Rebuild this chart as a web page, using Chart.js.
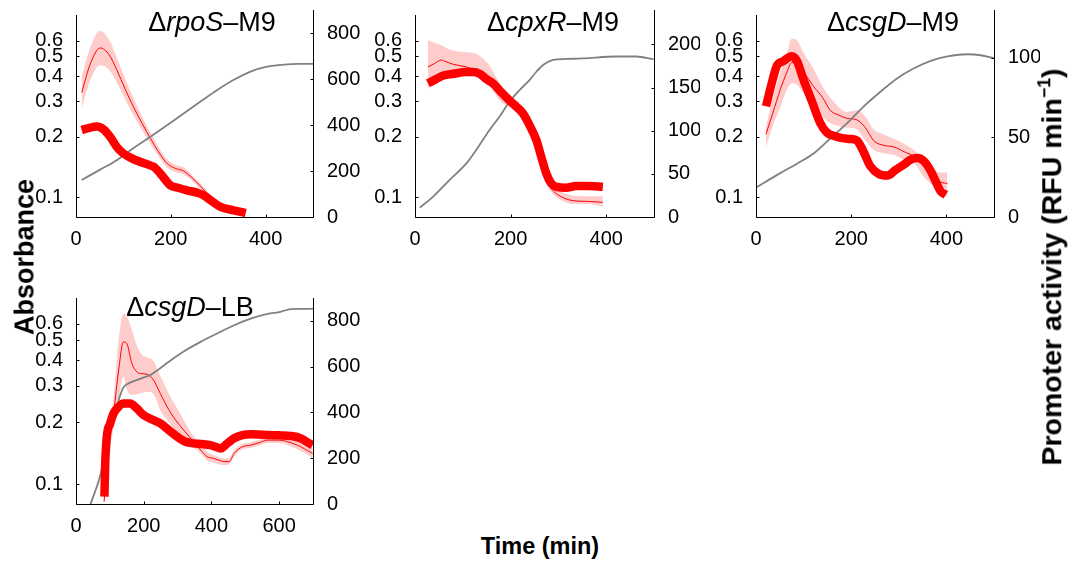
<!DOCTYPE html>
<html>
<head>
<meta charset="utf-8">
<script src="https://cdn.jsdelivr.net/npm/chart.js@4.4.0/dist/chart.umd.min.js"></script>
<style>
  body { margin: 0; background: #fff; width: 1073px; height: 562px; position: relative; overflow: hidden;
         font-family: "Liberation Sans", Arial, sans-serif; color: #000; }
  canvas { position: absolute; }
  .ttl { position: absolute; font-size: 27px; line-height: 1; white-space: nowrap; transform: translateX(-50%); }
  .lab { position: absolute; font-weight: bold; white-space: nowrap; line-height: 1; }
  .rot { transform: translate(-50%, -50%) rotate(-90deg); }
  sup { font-size: 0.62em; vertical-align: 0.62em; }
</style>
</head>
<body>
<canvas id="c1" width="360" height="260" style="left:0;top:0"></canvas>
<canvas id="c2" width="350" height="260" style="left:350px;top:0"></canvas>
<canvas id="c3" width="360" height="260" style="left:680px;top:0"></canvas>
<canvas id="c4" width="360" height="282" style="left:0;top:280px"></canvas>

<div class="ttl" style="left:212px;top:9px">&Delta;<i>rpoS</i>&ndash;M9</div>
<div class="ttl" style="left:553px;top:9px">&Delta;<i>cpxR</i>&ndash;M9</div>
<div class="ttl" style="left:893px;top:9px">&Delta;<i>csgD</i>&ndash;M9</div>
<div class="ttl" style="left:190px;top:294px">&Delta;<i>csgD</i>&ndash;LB</div>

<div class="lab rot" style="left:25px;top:257px;font-size:27px">Absorbance</div>
<div class="lab rot" style="left:1051px;top:267px;font-size:28.5px">Promoter activity (RFU min<sup>&minus;1</sup>)</div>
<div class="lab" style="left:540px;top:535px;font-size:23.5px;transform:translateX(-50%)">Time (min)</div>

<script>
// absorbance ticks shared by every panel (log axis)
const LOG_TICKS = [0.1, 0.2, 0.3, 0.4, 0.5, 0.6];

// ---- rpoS, M9 ----
const rpoS_odT = [12, 50, 86, 120, 157, 192, 227, 262, 298, 333, 368, 403, 439, 470, 500];
const rpoS_od = [0.122, 0.137, 0.153, 0.175, 0.2, 0.228, 0.261, 0.298, 0.341, 0.383, 0.421, 0.445, 0.456, 0.459, 0.459];
const rpoS_thickT = [12, 30, 44, 58, 72, 86, 100, 118, 135, 150, 164, 178, 199, 213, 234, 255, 269, 284, 305, 333, 358];
const rpoS_thick = [378, 389, 393, 381, 349, 305, 276, 255, 240, 229, 218, 189, 138, 128, 116, 106, 95, 73, 44, 29, 17];
const rpoS_thinT = [12, 30, 51, 70, 86, 104, 121, 140, 157, 174, 192, 210, 227, 245, 262, 280, 300];
const rpoS_thin = [541, 665, 735, 705, 640, 555, 480, 405, 342, 284, 233, 211, 200, 170, 135, 95, 45];
const rpoS_hi = [611, 737, 810, 770, 695, 600, 518, 435, 367, 304, 251, 227, 215, 183, 147, 105, 55];
const rpoS_lo = [471, 593, 660, 640, 585, 510, 442, 375, 317, 264, 215, 195, 185, 157, 123, 85, 35];

// ---- cpxR, M9 ----
const cpxR_odT = [10, 38, 72, 107, 128, 156, 177, 198, 219, 240, 254, 268, 289, 316, 351, 421, 463, 499];
const cpxR_od = [0.089, 0.101, 0.122, 0.147, 0.172, 0.216, 0.252, 0.299, 0.341, 0.383, 0.42, 0.454, 0.481, 0.486, 0.489, 0.5, 0.5, 0.485];
const cpxR_thickT = [27, 41, 59, 80, 107, 121, 135, 149, 163, 180, 198, 212, 226, 240, 254, 264, 275, 285, 296, 316, 337, 365, 393];
const cpxR_thick = [155, 159, 164, 166, 168, 168, 166, 160, 155, 145, 135, 128, 120, 106, 89, 70, 50, 39, 35, 34, 36, 36, 35];
const cpxR_thinT = [27, 41, 55, 65, 80, 107, 125, 142, 160, 177, 195, 212, 229, 247, 261, 275, 285, 296, 316, 330, 365, 393];
const cpxR_thin = [174, 178, 182, 180, 177, 174, 170, 162, 155, 145, 135, 128, 114, 97, 73, 46, 33, 27, 21, 19, 18, 17];
const cpxR_hi = [205, 202, 199, 196, 193, 191, 190, 184, 172, 155, 140, 131, 118, 104, 86, 57, 42, 34, 27, 25, 24, 24];
const cpxR_lo = [149, 155, 160, 163, 167, 169, 166, 159, 149, 135, 128, 122, 108, 93, 66, 41, 29, 23, 17, 15, 15, 12];

// ---- csgD, M9 ----
const csgM9_odT = [0, 51, 86, 121, 156, 191, 226, 262, 297, 332, 367, 402, 444, 472, 500];
const csgM9_od = [0.112, 0.132, 0.147, 0.165, 0.196, 0.233, 0.282, 0.335, 0.39, 0.437, 0.476, 0.5, 0.513, 0.507, 0.49];
const csgM9_thickT = [21, 33, 44, 58, 75, 86, 100, 117, 135, 149, 163, 181, 198, 212, 226, 240, 258, 276, 293, 311, 325, 339, 353, 367, 378, 388, 399];
const csgM9_thick = [69.5, 84, 95, 98, 101, 98, 86, 73, 59, 53, 51, 49.5, 49, 48, 41, 32, 27, 26, 29.5, 33, 36, 37, 35, 29, 22, 16, 14];
const csgM9_thinT = [21, 35, 51, 65, 75, 86, 100, 121, 140, 156, 174, 191, 212, 230, 247, 268, 290, 311, 332, 353, 374, 388, 402];
const csgM9_thin = [52, 65, 80, 91, 97, 96, 91, 82, 75, 67, 64, 62, 61, 56, 48, 45, 44, 41, 38, 32, 25, 22, 21];
const csgM9_hi = [57, 74, 91, 103, 112, 111, 103, 93, 82, 75, 69, 66, 67, 63, 55, 52, 49, 46, 42, 36, 29, 28, 28];
const csgM9_lo = [44, 57, 69, 80, 84, 83, 78, 72, 63, 59, 57, 56, 55, 48, 42, 40, 39, 36, 34, 25, 19, 14, 13];

// ---- csgD, LB ----
const csgLB_odT = [43, 71, 86, 101, 116, 130, 140, 155, 170, 195, 219, 244, 269, 318, 368, 417, 467, 516, 566, 600, 635, 664, 704];
const csgLB_od = [0.08, 0.109, 0.141, 0.182, 0.219, 0.268, 0.294, 0.308, 0.316, 0.327, 0.338, 0.36, 0.387, 0.44, 0.49, 0.538, 0.59, 0.635, 0.67, 0.683, 0.707, 0.708, 0.71];
const csgLB_thickT = [84, 86, 91, 101, 111, 126, 140, 160, 180, 200, 225, 249, 274, 299, 323, 348, 373, 397, 412, 427, 447, 467, 491, 516, 541, 566, 600, 635, 664, 684, 699];
const csgLB_thick = [32, 163, 294, 352, 396, 425, 439, 439, 417, 388, 369, 352, 323, 294, 272, 265, 262, 257, 250, 243, 265, 287, 301, 305, 304, 301, 300, 297, 287, 269, 257];
const csgLB_thinT = [83, 91, 101, 111, 126, 140, 150, 165, 180, 190, 210, 229, 249, 269, 294, 318, 343, 368, 387, 407, 427, 437, 452, 467, 491, 516, 541, 566, 600, 625, 645, 664, 684, 699];
const csgLB_thin = [10, 163, 294, 396, 585, 708, 701, 614, 577, 570, 567, 541, 483, 425, 367, 323, 279, 236, 207, 199, 189, 185, 185, 221, 250, 257, 268, 279, 279, 272, 262, 250, 233, 221];
const csgLB_hi = [20, 200, 340, 460, 720, 832, 820, 760, 690, 660, 640, 625, 560, 497, 430, 367, 305, 265, 228, 214, 202, 200, 200, 235, 262, 270, 281, 292, 292, 288, 280, 268, 252, 245];
const csgLB_lo = [0, 120, 250, 330, 450, 556, 500, 476, 480, 483, 490, 480, 410, 367, 320, 279, 250, 221, 190, 180, 172, 170, 172, 207, 238, 245, 256, 266, 266, 258, 245, 232, 215, 200];

const FONT = "'Liberation Sans', Arial, sans-serif";
Chart.defaults.font.family = FONT;
Chart.defaults.font.size = 20;
Chart.defaults.color = '#000';

const series = (t, v) => t.map((x, i) => ({ x, y: v[i] }));

// plain black axis lines with short inward ticks
const axisLines = {
  id: 'axisLines',
  afterDraw(chart, args, o) {
    const { ctx, chartArea: a, scales } = chart;
    const yL = scales.y, yR = scales.y1, xs = scales.x;
    const l = Math.round(a.left) + 0.5, r = Math.round(a.right) + 0.5, b = Math.round(a.bottom) + 0.5;
    ctx.save();
    ctx.strokeStyle = '#000';
    ctx.lineWidth = 1;
    ctx.beginPath();
    ctx.moveTo(l, Math.round(yL.getPixelForValue(o.leftTop)));
    ctx.lineTo(l, b);
    ctx.lineTo(r, b);
    ctx.moveTo(r, Math.round(a.top));
    ctx.lineTo(r, b);
    yL.ticks.forEach(t => { const p = Math.round(yL.getPixelForValue(t.value)) + 0.5; ctx.moveTo(l, p); ctx.lineTo(l + 3, p); });
    yR.ticks.forEach(t => { const p = Math.round(yR.getPixelForValue(t.value)) + 0.5; ctx.moveTo(r, p); ctx.lineTo(r - 3, p); });
    xs.ticks.forEach(t => { const p = Math.round(xs.getPixelForValue(t.value)) + 0.5; ctx.moveTo(p, b); ctx.lineTo(p, b - 3); });
    ctx.stroke();
    ctx.restore();
  }
};

function panel(id, p) {
  new Chart(document.getElementById(id), {
    type: 'line',
    data: {
      datasets: [
        { data: series(p.thickT, p.thick), yAxisID: 'y1', borderColor: '#ff0000', borderWidth: 8.5, order: 0 },
        { data: series(p.odT, p.od), yAxisID: 'y', borderColor: '#808080', borderWidth: 1.8, order: 1 },
        { data: series(p.thinT, p.thin), yAxisID: 'y1', borderColor: '#ff0000', borderWidth: 1, order: 2 },
        { data: series(p.thinT, p.hi), yAxisID: 'y1', borderColor: 'rgba(0,0,0,0)', backgroundColor: '#ffcccc', fill: '+1', order: 3 },
        { data: series(p.thinT, p.lo), yAxisID: 'y1', borderColor: 'rgba(0,0,0,0)', fill: false, order: 4 }
      ]
    },
    options: {
      responsive: false,
      animation: false,
      events: [],
      layout: { padding: { top: p.top, left: 0, right: 0, bottom: 0 } },
      elements: {
        point: { radius: 0 },
        line: { cubicInterpolationMode: 'monotone', borderCapStyle: 'butt', borderJoinStyle: 'round' }
      },
      plugins: { legend: { display: false }, tooltip: { enabled: false }, axisLines: { leftTop: p.leftTop } },
      scales: {
        x: {
          type: 'linear', min: 0, max: p.xMax,
          grid: { display: false }, border: { display: false },
          ticks: { stepSize: 200, includeBounds: false, padding: 2, maxRotation: 0 },
          afterFit: s => { s.height = p.xH; s.paddingLeft = 0; s.paddingRight = 0; }
        },
        y: {
          type: 'logarithmic', position: 'left', min: 0.08, max: p.leftMax,
          grid: { display: false }, border: { display: false },
          afterBuildTicks: s => { s.ticks = LOG_TICKS.map(v => ({ value: v })); },
          ticks: { padding: 5, callback: v => String(v) },
          afterFit: s => { s.width = p.yW; s.paddingTop = 0; s.paddingBottom = 0; }
        },
        y1: {
          type: 'linear', position: 'right', min: 0, max: p.y1Max,
          grid: { display: false }, border: { display: false },
          ticks: { stepSize: p.y1Step, includeBounds: false, padding: 6 },
          afterFit: s => { s.width = p.y1W; s.paddingTop = 0; s.paddingBottom = 0; }
        }
      }
    },
    plugins: [axisLines]
  });
}

panel('c1', { top: 10, yW: 76, y1W: 47, xH: 43, xMax: 500, leftMax: 0.85, leftTop: 0.8, y1Max: 900, y1Step: 200,
  odT: rpoS_odT, od: rpoS_od, thickT: rpoS_thickT, thick: rpoS_thick, thinT: rpoS_thinT, thin: rpoS_thin, hi: rpoS_hi, lo: rpoS_lo });
panel('c2', { top: 10, yW: 65, y1W: 46, xH: 43, xMax: 500, leftMax: 0.85, leftTop: 0.8, y1Max: 240, y1Step: 50,
  odT: cpxR_odT, od: cpxR_od, thickT: cpxR_thickT, thick: cpxR_thick, thinT: cpxR_thinT, thin: cpxR_thin, hi: cpxR_hi, lo: cpxR_lo });
panel('c3', { top: 10, yW: 76, y1W: 46, xH: 43, xMax: 500, leftMax: 0.85, leftTop: 0.8, y1Max: 130, y1Step: 50,
  odT: csgM9_odT, od: csgM9_od, thickT: csgM9_thickT, thick: csgM9_thick, thinT: csgM9_thinT, thin: csgM9_thin, hi: csgM9_hi, lo: csgM9_lo });
panel('c4', { top: 18, yW: 76, y1W: 47, xH: 58, xMax: 700, leftMax: 0.8, leftTop: 0.8, y1Max: 900, y1Step: 200,
  odT: csgLB_odT, od: csgLB_od, thickT: csgLB_thickT, thick: csgLB_thick, thinT: csgLB_thinT, thin: csgLB_thin, hi: csgLB_hi, lo: csgLB_lo });
</script>
</body>
</html>
